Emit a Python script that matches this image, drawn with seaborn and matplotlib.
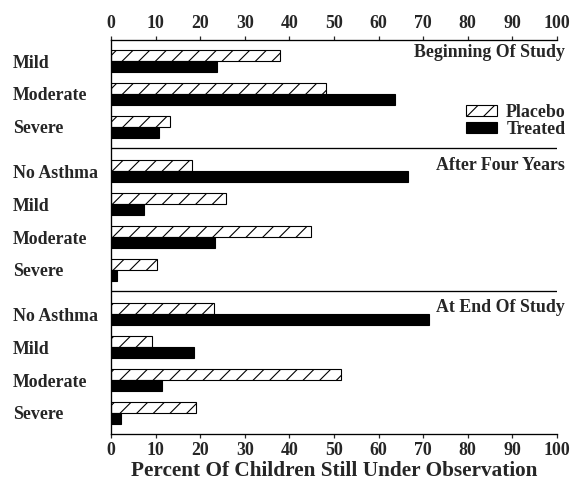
import matplotlib
matplotlib.use("Agg")
import matplotlib.pyplot as plt
import matplotlib.patches as mpatches
import seaborn as sns
import pandas as pd

# ---- data ----
panels = ["Beginning Of Study", "After Four Years", "At End Of Study"]
panel_categories = [
    ["Mild", "Moderate", "Severe"],
    ["No Asthma", "Mild", "Moderate", "Severe"],
    ["No Asthma", "Mild", "Moderate", "Severe"],
]
placebo = [38.0, 48.1, 13.2, 18.2, 25.8, 44.8, 10.3, 23.2, 9.1, 51.6, 19.1]
treated = [23.7, 63.7, 10.8, 66.7, 7.5, 23.4, 1.3, 71.4, 18.7, 11.5, 2.2]
series = ["Placebo", "Treated"]
xticks = list(range(0, 101, 10))
xlabel = "Percent Of Children Still Under Observation"

# ---- layout (row positions with gaps between panels) ----
panel_offsets = [0.0, 0.35, 0.7]
positions, labels, panel_start = [], [], []
row = 0
for p, cats in enumerate(panel_categories):
    panel_start.append(row + panel_offsets[p])
    for c in cats:
        positions.append(row + panel_offsets[p])
        labels.append(c)
        row += 1

df = pd.DataFrame({
    "pos": positions * 2,
    "value": placebo + treated,
    "group": [series[0]] * len(placebo) + [series[1]] * len(treated),
})

sns.set_style("ticks")
plt.rcParams["font.family"] = ["Liberation Serif", "DejaVu Serif"]
plt.rcParams["font.weight"] = "bold"
plt.rcParams["hatch.linewidth"] = 0.8
plt.rcParams["hatch.color"] = "black"

DPI = 100
FS = 12.9
fig = plt.figure(figsize=(573 / DPI, 488 / DPI), dpi=DPI)
ax = fig.add_axes([111 / 573, 1 - 434 / 488, (557 - 111) / 573, (434 - 40) / 488])

sns.barplot(data=df, x="value", y="pos", hue="group", hue_order=series,
            orient="y", native_scale=True, width=0.67, dodge=True,
            palette={"Placebo": "white", "Treated": "black"},
            edgecolor="black", linewidth=0.8, legend=False, ax=ax)

for patch in ax.containers[0]:
    patch.set_facecolor("white")
    patch.set_hatch("//")
for patch in ax.containers[1]:
    patch.set_facecolor("black")

ax.set_xlim(0, 100)
ax.set_ylim(11.34, -0.64)
ax.set_xticks(xticks)
ax.set_yticks(positions)
ax.set_yticklabels(labels, fontsize=FS, fontweight="bold")
for t in ax.get_yticklabels():
    t.set_ha("left")
ax.tick_params(axis="y", length=0, pad=70.6)
ax.tick_params(axis="x", top=True, labeltop=True, bottom=True, labelbottom=True,
               direction="out", length=3, width=0.9, pad=2.5, labelsize=FS)
for t in ax.get_xticklabels():
    t.set_fontweight("bold")
ax.set_xlabel(xlabel, fontsize=15.3, fontweight="bold", labelpad=1.5)
ax.set_ylabel("")

ax.spines["right"].set_visible(False)
for s in ["top", "bottom", "left"]:
    ax.spines[s].set_linewidth(0.95)
    ax.spines[s].set_color("black")

# separators between panels
for p in range(1, len(panels)):
    ax.axhline(panel_start[p] - 0.71, color="black", linewidth=0.95)

# panel titles
title_y = [-0.27, 3.19, 7.5]
for name, ty in zip(panels, title_y):
    ax.text(101.8, ty, name, ha="right", va="center", fontsize=FS,
            fontweight="bold", clip_on=False)

handles = [mpatches.Patch(facecolor="white", edgecolor="black", hatch="//", linewidth=0.8),
           mpatches.Patch(facecolor="black", edgecolor="black", linewidth=0.8)]
fig.legend(handles, series, loc="center right",
           bbox_to_anchor=(566 / 573, 1 - 121 / 488), frameon=False,
           fontsize=FS, handlelength=1.75, handleheight=0.6,
           handletextpad=0.5, labelspacing=0.0, borderpad=0, borderaxespad=0)

fig.savefig("out.png", dpi=DPI)
